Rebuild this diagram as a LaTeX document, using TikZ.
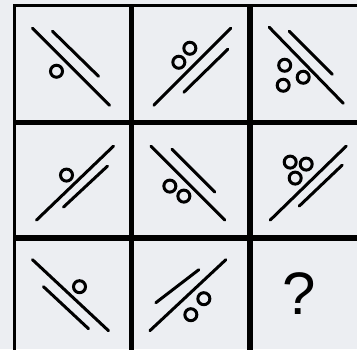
\documentclass[tikz,border=0pt]{standalone}
\usepackage{fontspec}
\setmainfont{Liberation Sans}
\usepackage{tikz}
\usetikzlibrary{positioning}
\definecolor{paper}{RGB}{236,238,242}
\tikzstyle{cell} = [rectangle,
minimum width=116pt,
minimum height=113pt,
inner sep=0pt,
draw=black, line width=2.6pt]
\tikzstyle{stroke} = [line width=3pt, line cap=round]
\tikzstyle{ring} = [line width=3pt]

\begin{document}
\begin{tikzpicture}[x=1pt, y=-1pt]
    \fill [paper] (0,0) rectangle (357,349);
    \useasboundingbox (0,0) rectangle (357,349);
    \begin{scope}
        \clip (0,0) rectangle (357,349);
        \node (c11) [cell, minimum height=115.5pt] at (72.5,63.25) {};
        \node (c12) [cell, minimum height=115.5pt, minimum width=115.5pt, right=0pt of c11] {};
        \node (c13) [cell, minimum height=115.5pt, right=0pt of c12] {};
        \node (c21) [cell, below=0pt of c11] {};
        \node (c22) [cell, minimum width=115.5pt, right=0pt of c21] {};
        \node (c23) [cell, right=0pt of c22] {};
        \node (c31) [cell, below=0pt of c21] {};
        \node (c32) [cell, minimum width=115.5pt, right=0pt of c31] {};
        \node (c33) [cell, right=0pt of c32] {};
    \end{scope}

    % row 1
    \begin{scope}[shift={(c11.center)}]
        \draw [stroke] (-40,-35) -- (37,42);
        \draw [stroke] (-20,-32) -- (26,13);
        \draw [ring] (-16,8) circle (6pt);
    \end{scope}
    \begin{scope}[shift={(c12.center)}]
        \draw [stroke] (-37,42) -- (40,-35);
        \draw [stroke] (-7,29) -- (37,-14);
        \draw [ring] (-12,-1) circle (6pt) (-1,-15) circle (6pt);
    \end{scope}
    \begin{scope}[shift={(c13.center)}]
        \draw [stroke] (-40,-36) -- (34,40);
        \draw [stroke] (-20,-32) -- (23,11);
        \draw [ring] (-24.5,2) circle (6pt) (-6,14) circle (6pt) (-26,22) circle (6pt);
    \end{scope}

    % row 2
    \begin{scope}[shift={(c21.center)}]
        \draw [stroke] (-36,40) -- (41,-34);
        \draw [stroke] (-9,27) -- (35,-14);
        \draw [ring] (-6,-5) circle (6pt);
    \end{scope}
    \begin{scope}[shift={(c22.center)}]
        \draw [stroke] (-40,-34) -- (34,40);
        \draw [stroke] (-19,-31) -- (24,12);
        \draw [ring] (-21,6) circle (6pt) (-7,16) circle (6pt);
    \end{scope}
    \begin{scope}[shift={(c23.center)}]
        \draw [stroke] (-39,40) -- (37,-34);
        \draw [stroke] (-10,26) -- (33,-15);
        \draw [ring] (-19,-18) circle (6pt) (-3,-16) circle (6pt) (-14,-2) circle (6pt);
    \end{scope}

    % row 3
    \begin{scope}[shift={(c31.center)}]
        \draw [stroke] (-40,-36) -- (36,35);
        \draw [stroke] (-29,-9) -- (16,33);
        \draw [ring] (7,-9) circle (6pt);
    \end{scope}
    \begin{scope}[shift={(c32.center)}]
        \draw [stroke] (-41,35) -- (35,-36);
        \draw [stroke] (-35,7) -- (8,-26);
        \draw [ring] (13,3) circle (6pt) (0,19) circle (6pt);
    \end{scope}
    \node (ask) at ([xshift=-10pt, yshift=2.5pt]c33.center) {\fontsize{60}{60}\selectfont ?};
\end{tikzpicture}
\end{document}
